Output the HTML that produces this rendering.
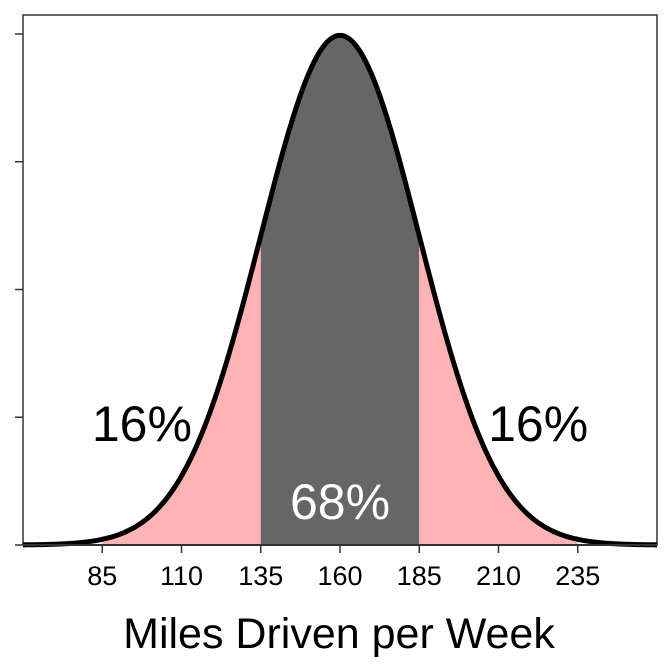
<!DOCTYPE html>
<html><head><meta charset="utf-8"><style>
body{margin:0;background:#fff}
svg{display:block;font-family:"Liberation Sans",sans-serif}
</style></head><body>
<svg id="c" width="672" height="672"></svg>
<script>
const xTicks=[85,110,135,160,185,210,235];
const yTicks=[0,0.004,0.008,0.012,0.016];
const mean=160, sd=25;
const bands=[[85,135,'#ffb3b3'],[135,185,'#666666'],[185,235,'#ffb3b3']];
const labels=[[97.5,'16%','#000',441],[160,'68%','#fff',519],[222.5,'16%','#000',441]];
const xMin=60,xMax=260,yMax=0.016;
const L=23,R=657,T=15,B=545,Y16=34;
const X=v=>L+(v-xMin)/(xMax-xMin)*(R-L);
const Y=d=>B-d/yMax*(B-Y16);
const f=x=>Math.exp(-0.5*((x-mean)/sd)**2)/(sd*Math.sqrt(2*Math.PI));
const NS='http://www.w3.org/2000/svg', s=document.getElementById('c');
function mk(t,a,p){const e=document.createElementNS(NS,t);for(const k in a)e.setAttribute(k,a[k]);(p||s).appendChild(e);return e;}
let fr=mk('rect',{x:L,y:T,width:R-L,height:B-T,fill:'none',stroke:'#333','stroke-width':1.5});


bands.forEach(b=>{let d='M'+X(b[0])+','+B;for(let v=b[0];v<=b[1]+1e-9;v+=0.5)d+=' L'+X(v)+','+Y(f(v));d+=' L'+X(b[1])+','+B+'Z';
 let p=mk('path',{d:d,fill:b[2]});
 
 });
let d='';for(let v=xMin;v<=xMax+1e-9;v+=0.5)d+=(d?' L':'M')+X(v)+','+Y(f(v));
let c=mk('path',{d:d,fill:'none',stroke:'#000','stroke-width':5,'stroke-linejoin':'round'});


mk('line',{x1:L,y1:B,x2:R,y2:B,stroke:'#333','stroke-width':2});
xTicks.forEach(v=>{let l=mk('line',{x1:X(v),y1:B,x2:X(v),y2:B+8,stroke:'#333','stroke-width':1.5});
 
 
 let t=mk('text',{x:X(v),y:585,'text-anchor':'middle','font-size':27,fill:'#000'});t.textContent=v;
 
 });
yTicks.forEach(v=>{let l=mk('line',{x1:L-8,y1:Y(v),x2:L,y2:Y(v),stroke:'#333','stroke-width':1.5});
 
 });
labels.forEach(a=>{let t=mk('text',{x:X(a[0]),y:a[3],'text-anchor':'middle','font-size':50,fill:a[2]});t.textContent=a[1];
 
 });
let ti=mk('text',{x:339,y:648,'text-anchor':'middle','font-size':43,fill:'#000'});ti.textContent='Miles Driven per Week';


</script>
</body></html>
